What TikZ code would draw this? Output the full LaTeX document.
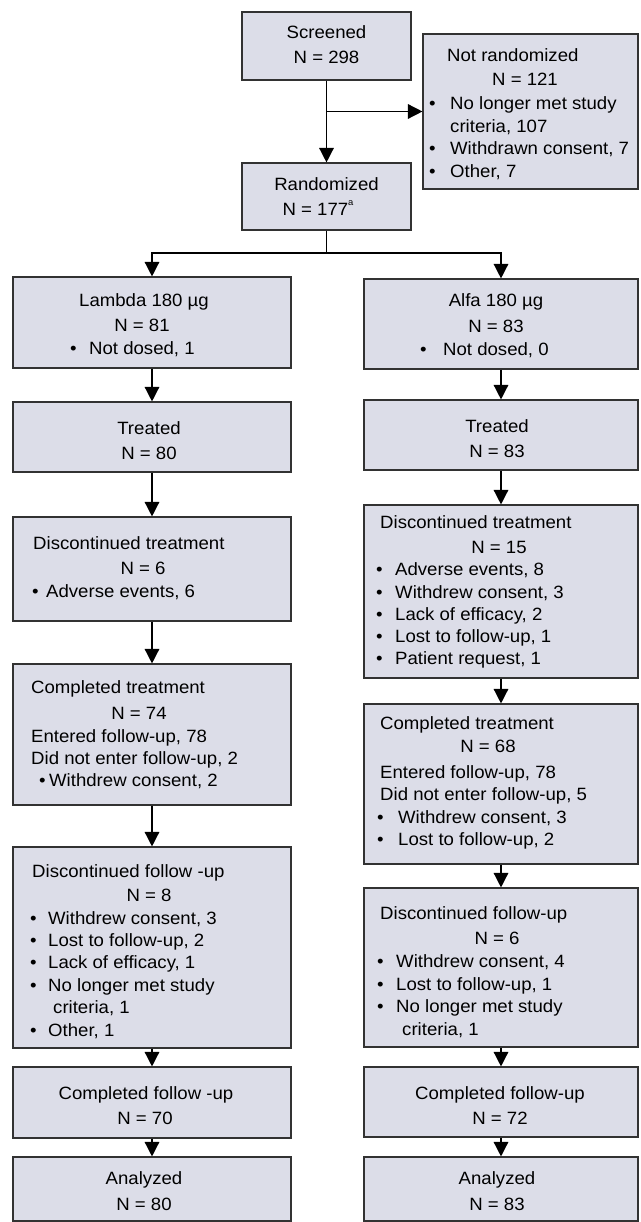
\documentclass[tikz,border=0pt]{standalone}
\usepackage{fontspec}
\setmainfont{Liberation Sans}[FakeStretch=1.045]
\usetikzlibrary{arrows.meta}
\definecolor{boxfill}{RGB}{220,221,232}
\definecolor{boxline}{RGB}{50,50,50}
\newcommand\fs{\fontsize{17.8}{22}\selectfont}
\newcommand\bl[2]{\makebox[#1pt][l]{•}#2}
\begin{document}
\begin{tikzpicture}[x=1pt,y=-1pt,
 box/.style={draw=boxline, fill=boxfill, line width=1.1pt, inner sep=0pt},
 tx/.style={inner sep=0pt, anchor=base west, font=\fs},
 tc/.style={inner sep=0pt, anchor=base, font=\fs},
 arr/.style={line width=1.4pt, draw=black, -{Triangle[width=14.5pt,length=14.5pt]}},
 ln/.style={line width=1.4pt, draw=black}]
\fill[white] (0,0) rectangle (640,1222);
\useasboundingbox (0,0) rectangle (640,1222);
% boxes
\node[box, minimum width=169pt, minimum height=68pt] (scr) at (326.5,46) {};
\node[box, minimum width=215pt, minimum height=155pt] (nr) at (530.5,111.5) {};
\node[box, minimum width=169pt, minimum height=67pt] (rand) at (326.5,196.5) {};
\node[box, minimum width=278pt, minimum height=91pt] (lam) at (152,322.5) {};
\node[box, minimum width=274pt, minimum height=90pt] (alfa) at (501,324) {};
\node[box, minimum width=278pt, minimum height=70pt] (tl) at (152,437) {};
\node[box, minimum width=274pt, minimum height=70pt] (tr) at (501,435) {};
\node[box, minimum width=278pt, minimum height=104pt] (dtl) at (152,569) {};
\node[box, minimum width=274pt, minimum height=173pt] (dtr) at (501,591.5) {};
\node[box, minimum width=278pt, minimum height=141pt] (ctl) at (152,734.5) {};
\node[box, minimum width=274pt, minimum height=160pt] (ctr) at (501,784) {};
\node[box, minimum width=278pt, minimum height=201pt] (dfl) at (152,947.5) {};
\node[box, minimum width=274pt, minimum height=159pt] (dfr) at (501,967.5) {};
\node[box, minimum width=278pt, minimum height=71pt] (cfl) at (152,1102.5) {};
\node[box, minimum width=274pt, minimum height=70pt] (cfr) at (501,1102) {};
\node[box, minimum width=278pt, minimum height=64pt] (anl) at (152,1189) {};
\node[box, minimum width=274pt, minimum height=64pt] (anr) at (501,1189) {};
% connectors
\draw[arr] (scr.south) -- (rand.north);
\draw[arr] (scr.south |- nr.west) -- (nr.west);
\coordinate (split) at (326.5,253);
\draw[ln] (rand.south) -- (split);
\draw[arr] (split) -| (lam.north);
\draw[arr] (split) -| (alfa.north);
\draw[arr] (lam.south) -- (tl.north);
\draw[arr] (tl.south) -- (dtl.north);
\draw[arr] (dtl.south) -- (ctl.north);
\draw[arr] (ctl.south) -- (dfl.north);
\draw[arr] (dfl.south) -- (cfl.north);
\draw[arr] (cfl.south) -- (anl.north);
\draw[arr] (alfa.south) -- (tr.north);
\draw[arr] (tr.south) -- (dtr.north);
\draw[arr] (dtr.south) -- (ctr.north);
\draw[arr] (ctr.south) -- (dfr.north);
\draw[arr] (dfr.south) -- (cfr.north);
\draw[arr] (cfr.south) -- (anr.north);
% texts: screened
\node[tc] (s1) at (326.5,39) {Screened};
\node[tc] (s2) at (326.5,64) {N = 298};
% not randomized
\node[tx] (n1) at (447,62) {Not randomized};
\node[tc] (n2) at (525,86) {N = 121};
\node[tx] (n3) at (429,110) {\bl{21}{No longer met study}};
\node[tx] (n4) at (450,133) {criteria, 107};
\node[tx] (n5) at (429,155) {\bl{21}{Withdrawn consent, 7}};
\node[tx] (n6) at (429,178) {\bl{21}{Other, 7}};
% randomized
\node[tc] (r1) at (326.5,191) {Randomized};
\node[tc] (r2) at (318,216) {N = 177\raisebox{10pt}{\fontsize{9}{9}\selectfont a}};
% lambda
\node[tc] (a1) at (144,306) {Lambda 180 µg};
\node[tc] (a2) at (142,331) {N = 81};
\node[tx] (a3) at (70,354) {\bl{19}{Not dosed, 1}};
% alfa
\node[tc] (b1) at (496,306) {Alfa 180 µg};
\node[tc] (b2) at (496,332) {N = 83};
\node[tx] (b3) at (420,355) {\bl{23}{Not dosed, 0}};
% treated
\node[tc] (c1) at (149,434) {Treated};
\node[tc] (c2) at (149,459) {N = 80};
\node[tc] (d1) at (497,432) {Treated};
\node[tc] (d2) at (497,457) {N = 83};
% discontinued treatment left
\node[tx] (e1) at (33,549) {Discontinued treatment};
\node[tc] (e2) at (143,574) {N = 6};
\node[tx] (e3) at (32,597) {\bl{14}{Adverse events, 6}};
% discontinued treatment right
\node[tx] (f1) at (380,528) {Discontinued treatment};
\node[tc] (f2) at (499,553) {N = 15};
\node[tx] (f3) at (376,575) {\bl{19}{Adverse events, 8}};
\node[tx] (f4) at (376,598) {\bl{19}{Withdrew consent, 3}};
\node[tx] (f5) at (376,620) {\bl{19}{Lack of efficacy, 2}};
\node[tx] (f6) at (376,642) {\bl{19}{Lost to follow-up, 1}};
\node[tx] (f7) at (376,664) {\bl{19}{Patient request, 1}};
% completed treatment left
\node[tx] (g1) at (31,693) {Completed treatment};
\node[tc] (g2) at (139,719) {N = 74};
\node[tx] (g3) at (31,742) {Entered follow-up, 78};
\node[tx] (g4) at (31,764) {Did not enter follow-up, 2};
\node[tx] (g5) at (39,786) {\bl{10}{Withdrew consent, 2}};
% completed treatment right
\node[tx] (h1) at (380,729) {Completed treatment};
\node[tc] (h2) at (488,752) {N = 68};
\node[tx] (h3) at (380,778) {Entered follow-up, 78};
\node[tx] (h4) at (380,800) {Did not enter follow-up, 5};
\node[tx] (h5) at (377,823) {\bl{21}{Withdrew consent, 3}};
\node[tx] (h6) at (377,845) {\bl{21}{Lost to follow-up, 2}};
% discontinued follow-up left
\node[tx] (i1) at (32,877) {Discontinued follow -up};
\node[tc] (i2) at (149,901) {N = 8};
\node[tx] (i3) at (30,924) {\bl{18}{Withdrew consent, 3}};
\node[tx] (i4) at (30,946) {\bl{18}{Lost to follow-up, 2}};
\node[tx] (i5) at (30,968) {\bl{18}{Lack of efficacy, 1}};
\node[tx] (i6) at (30,991) {\bl{18}{No longer met study}};
\node[tx] (i7) at (53,1013) {criteria, 1};
\node[tx] (i8) at (30,1036) {\bl{18}{Other, 1}};
% discontinued follow-up right
\node[tx] (j1) at (380,919) {Discontinued follow-up};
\node[tc] (j2) at (497,944) {N = 6};
\node[tx] (j3) at (377,967) {\bl{19}{Withdrew consent, 4}};
\node[tx] (j4) at (377,990) {\bl{19}{Lost to follow-up, 1}};
\node[tx] (j5) at (377,1012) {\bl{19}{No longer met study}};
\node[tx] (j6) at (402,1035) {criteria, 1};
% completed follow-up
\node[tc] (k1) at (146,1099) {Completed follow -up};
\node[tc] (k2) at (145,1124) {N = 70};
\node[tc] (m1) at (500,1099) {Completed follow-up};
\node[tc] (m2) at (500,1124) {N = 72};
% analyzed
\node[tc] (p1) at (144,1184) {Analyzed};
\node[tc] (p2) at (144,1210) {N = 80};
\node[tc] (q1) at (497,1184) {Analyzed};
\node[tc] (q2) at (497,1210) {N = 83};
\end{tikzpicture}
\end{document}
